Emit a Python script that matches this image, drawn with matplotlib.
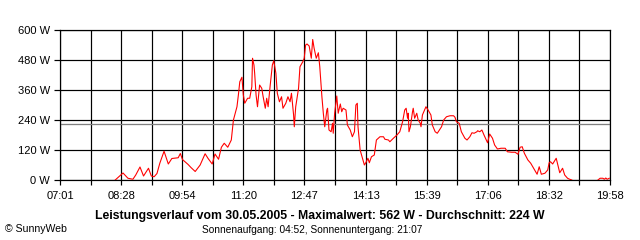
import matplotlib
matplotlib.use("Agg")
import matplotlib.pyplot as plt
import numpy as np

# time in minutes after midnight, power in W (None = no data)
times = [499, 503, 510, 517, 524, 528, 534, 539, 546, 550, 554, 558, 562, 568, 574,
         579, 586, 588, 591, 594, 598, 602, 606, 612, 619, 626, 630, 636, 640, 645,
         649, 653, 658, 663, 666, 671, 673, 675, 678, 680, 682, 686, 689, 692, 693,
         695, 696, 698, 700, 703, 706, 708, 711, 713, 715, 718, 721, 723, 726, 728,
         731, 734, 736, 740, 743, 746, 748, 751, 752, 754, 758, 760, 764, 766, 768,
         770, 773, 776, 778, 780, 783, 786, 788, 791, 793, 795, 798, 799, 801, 804,
         806, 807, 809, 812, 814, 817, 819, 821, 825, 827, 831, 834, 837, 839, 841,
         842, 845, 847, 851, 853, 856, 858, 861, 865, 868, 873, 878, 880, 885, 887,
         892, 897, 901, 905, 908, 910, 912, 913, 914, 916, 919, 920, 922, 925, 927,
         930, 931, 933, 935, 938, 941, 945, 947, 951, 954, 957, 960, 963, 967, 972,
         977, 979, 981, 985, 988, 993, 996, 1000, 1003, 1006, 1010, 1011, 1014, 1017, 1020,
         1025, 1028, 1032, 1035, 1039, 1044, 1050, 1053, 1059, 1064, 1068, 1071, 1074, 1077, 1082,
         1086, 1091, 1095, 1098, 1101, 1106, 1110, 1112, 1114, 1117, 1122, 1125, 1127, 1131, 1134,
         1138, 1141, 1144, 1160, 1181, 1184, 1188, 1190, 1192, 1194, 1197]
watts = [0, 10, 28, 7, 3, 20, 52, 16, 47, 16, 13, 26, 67, 115, 64,
         86, 88, 89, 106, 82, 72, 62, 50, 34, 60, 105, 87, 64, 104, 83,
         131, 147, 131, 160, 240, 293, 340, 393, 411, 340, 307, 327, 327, 373, 487,
         460, 427, 340, 293, 380, 367, 333, 287, 327, 293, 380, 460, 477, 427, 347,
         313, 333, 287, 307, 333, 313, 347, 260, 213, 293, 367, 453, 473, 487, 540,
         544, 536, 487, 562, 527, 487, 509, 453, 333, 267, 213, 280, 287, 200, 193,
         227, 187, 267, 336, 267, 304, 273, 287, 280, 220, 200, 173, 193, 300, 307,
         213, 120, 100, 60, 69, 87, 69, 93, 100, 160, 173, 173, 163, 160, 153,
         167, 180, 193, 233, 280, 287, 247, 267, 193, 213, 273, 287, 247, 267, 240,
         227, 213, 260, 273, 293, 280, 260, 220, 193, 187, 200, 213, 240, 253, 257,
         257, 251, 233, 227, 193, 167, 160, 173, 189, 187, 193, 197, 193, 200, 180,
         149, 184, 167, 140, 124, 127, 127, 113, 111, 111, 103, 131, 133, 107, 80,
         67, 43, 23, 53, 23, 27, 40, 69, 73, 64, 87, 53, 29, 47, 20,
         7, 3, 0, None, 0, 7, 7, 3, 8, 3, 7]

average = 224
x_start, x_end = 421, 1198
x_labels = ["07:01", "08:28", "09:54", "11:20", "12:47", "14:13", "15:39", "17:06", "18:32", "19:58"]
y_ticks = [0, 120, 240, 360, 480, 600]
y_labels = ["0 W", "120 W", "240 W", "360 W", "480 W", "600 W"]
title = "Leistungsverlauf vom 30.05.2005 - Maximalwert: 562 W - Durchschnitt: 224 W"
subtitle = "Sonnenaufgang: 04:52, Sonnenuntergang: 21:07"
credit = "\u00a9 SunnyWeb"

plt.rcParams['font.family'] = ['Liberation Sans', 'DejaVu Sans']

fig = plt.figure(figsize=(6.4, 2.4), dpi=100)
W, H = 640, 240
ax = fig.add_axes([60 / W, 1 - 180 / H, 550 / W, 150 / H])

t = np.array(times, dtype=float)
v = np.array([np.nan if w is None else w for w in watts], dtype=float)

px = 72 / 100  # one pixel in points
ax.set_xlim(x_start, x_end)
ax.set_ylim(0, 600)

n = 18
step = (x_end - x_start) / n
major = [x_start + 2 * k * step for k in range(len(x_labels))]
minor = [x_start + (2 * k + 1) * step for k in range(n // 2)]
ax.set_xticks(major)
ax.set_xticklabels(x_labels)
ax.set_xticks(minor, minor=True)
ax.set_yticks(y_ticks)
ax.set_yticklabels(y_labels)

ax.grid(True, which='both', color='black', linewidth=px * 1.2, zorder=1)
ax.set_axisbelow(True)
for s in ax.spines.values():
    s.set_color('black')
    s.set_linewidth(px * 1.2)

ax.tick_params(axis='x', which='both', length=5 * px, width=px * 1.2, color='black',
               pad=4, labelsize=8)
ax.tick_params(axis='y', which='both', length=6 * px, width=px * 1.2, color='black',
               pad=3, labelsize=8)

ax.axhline(average, color='#808080', linewidth=px * 1.3, zorder=2)
ax.plot(t, v, color='#ff0000', linewidth=px * 1.1, zorder=3)

fig.text(0.5, 1 - 216 / H, title, ha='center', va='center', fontsize=8.8, fontweight='bold')
fig.text(312 / W, 1 - 230 / H, subtitle, ha='center', va='center', fontsize=7.3)
fig.text(5 / W, 1 - 229 / H, credit, ha='left', va='center', fontsize=7.6)

fig.savefig("out.png", dpi=100, facecolor='white')
